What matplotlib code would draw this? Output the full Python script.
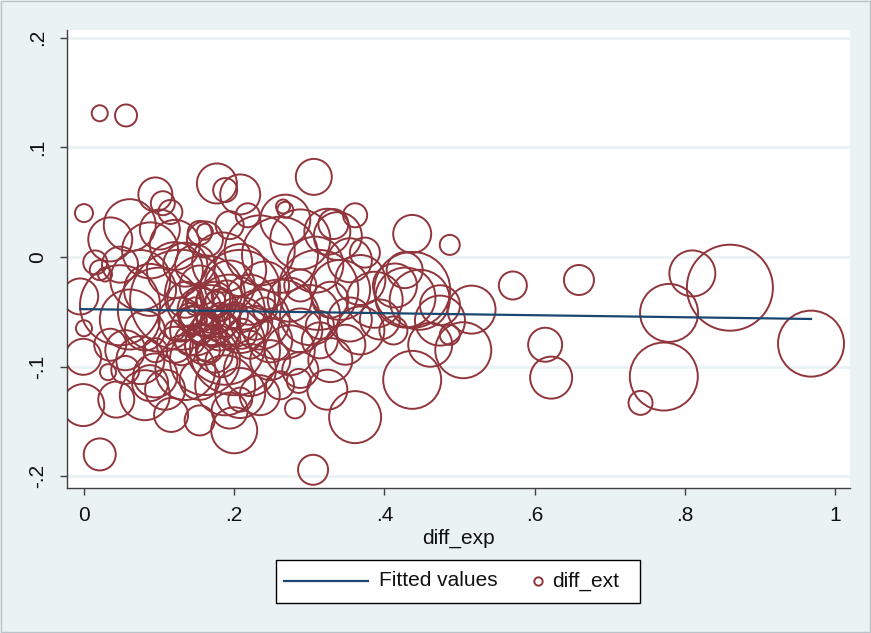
import matplotlib
matplotlib.use("Agg")
import matplotlib.pyplot as plt
from matplotlib.patches import Rectangle
from matplotlib.lines import Line2D

plt.rcParams['font.family'] = ['Liberation Sans', 'DejaVu Sans']

# ---- data: diff_exp (x), diff_ext (y), bubble weight ----
diff_exp = [
    0.021, 0.056, 0.306, 0.000, 0.177, 0.188, 0.208, 0.095, 0.105, 0.361,
    0.437, 0.487, 0.571, 0.659, 0.810, 0.860, 0.779, 0.614, 0.622, 0.772,
    0.741, 0.968, 0.437, 0.361, 0.305, 0.021, 0.200, -0.001, -0.001, 0.000,
    -0.005, 0.043, 0.032, 0.116, 0.154, 0.281, 0.286, 0.324, 0.505, 0.516,
    0.487, 0.437, 0.428, 0.474, 0.374, 0.324,
    0.035, 0.061, 0.088, 0.048, 0.021, 0.028, 0.101, 0.121, 0.135, 0.075,
    0.015, 0.115, 0.161, 0.194, 0.218, 0.184, 0.234, 0.261, 0.288, 0.268,
    0.308, 0.268, 0.338, 0.354, 0.341, 0.368, 0.387, 0.414, 0.447, 0.427,
    0.394, 0.354, 0.328, 0.474, 0.461, 0.412, 0.312, 0.168, 0.154, 0.174,
    0.148, 0.181, 0.194, 0.161, 0.135, 0.128, 0.208, 0.221, 0.234, 0.248,
    0.141, 0.161, 0.174, 0.188, 0.121, 0.154, 0.194, 0.101, 0.081, 0.061,
    0.055, 0.075, 0.095, 0.108, 0.081, 0.135, 0.154, 0.188, 0.221, 0.248,
    0.274, 0.288, 0.301, 0.314, 0.328, 0.288, 0.261, 0.234, 0.208, 0.194,
    0.035, 0.055, 0.121, 0.148, 0.208, 0.241, 0.274, 0.088, 0.048, 0.201,
    0.128, 0.161, 0.348, 0.368, 0.261, 0.221, 0.174, 0.161, 0.154, 0.141,
    0.181, 0.121, 0.241, 0.288, 0.314, 0.095, 0.208, 0.208, 0.265, 0.332,
    0.161, 0.154, 0.088,
    0.168, 0.181, 0.174, 0.161, 0.188, 0.195, 0.155, 0.148, 0.201, 0.175,
    0.190, 0.165, 0.210, 0.145, 0.183, 0.228, 0.130,
]
diff_ext = [
    0.131, 0.129, 0.073, 0.040, 0.067, 0.061, 0.057, 0.057, 0.049, 0.038,
    0.021, 0.011, -0.026, -0.021, -0.015, -0.028, -0.051, -0.080, -0.110, -0.109,
    -0.133, -0.079, -0.112, -0.146, -0.194, -0.180, -0.158, -0.135, -0.091, -0.065,
    -0.036, -0.130, -0.105, -0.144, -0.149, -0.138, -0.113, -0.121, -0.085, -0.048,
    -0.071, -0.030, -0.037, -0.058, 0.004, 0.023,
    0.016, 0.029, 0.006, -0.007, -0.012, -0.016, 0.025, 0.011, -0.007, -0.021,
    -0.005, 0.041, 0.016, 0.029, 0.038, -0.005, 0.006, 0.002, 0.016, 0.034,
    -0.007, 0.043, 0.019, -0.003, -0.030, -0.021, -0.039, -0.026, -0.039, -0.012,
    -0.057, -0.057, -0.039, -0.044, -0.080, -0.067, -0.030, -0.053, -0.048, -0.039,
    -0.067, -0.067, -0.048, -0.035, -0.039, -0.057, -0.062, -0.039, -0.057, -0.076,
    -0.076, -0.080, -0.089, -0.080, -0.080, -0.026, -0.026, -0.048, -0.067, -0.057,
    -0.085, -0.094, -0.108, -0.121, -0.126, -0.103, -0.112, -0.117, -0.103, -0.094,
    -0.085, -0.067, -0.053, -0.076, -0.094, -0.103, -0.117, -0.126, -0.130, -0.140,
    -0.080, -0.103, -0.012, -0.007, -0.012, -0.026, -0.039, -0.030, -0.044, -0.085,
    -0.039, -0.094, -0.080, -0.067, -0.057, -0.080, -0.057, -0.062, -0.039, -0.053,
    -0.044, -0.067, -0.048, -0.026, -0.062, -0.085, -0.030, -0.124, 0.046, 0.030,
    0.023, 0.022, -0.115,
    -0.060, -0.050, -0.072, -0.055, -0.062, -0.075, -0.070, -0.045, -0.053, -0.040,
    -0.035, -0.085, -0.070, -0.058, -0.095, -0.060, -0.085,
]
weight = [
    0.64, 1.21, 3.24, 0.81, 4.00, 1.44, 4.00, 2.89, 1.44, 1.44,
    3.61, 1.00, 1.96, 2.25, 5.29, 18.49, 8.41, 2.89, 4.41, 11.56,
    1.44, 10.89, 8.41, 6.76, 2.25, 2.56, 5.29, 4.41, 3.24, 0.64,
    3.24, 3.24, 0.64, 2.89, 2.25, 1.00, 1.44, 4.00, 7.84, 5.76,
    1.00, 14.44, 9.00, 6.25, 2.25, 5.29,
    4.84, 6.76, 7.84, 3.24, 1.00, 0.49, 4.00, 6.25, 4.84, 9.00,
    1.44, 1.44, 3.24, 1.96, 1.44, 9.00, 12.25, 14.44, 9.00, 6.25,
    7.84, 0.64, 5.76, 4.84, 9.00, 6.25, 7.84, 4.84, 9.00, 3.24,
    4.00, 4.84, 3.24, 4.00, 4.84, 1.96, 16.00, 9.00, 4.84, 3.24,
    6.25, 4.00, 12.25, 16.00, 3.24, 4.84, 7.84, 6.25, 9.00, 4.84,
    2.25, 4.00, 3.24, 16.00, 3.24, 4.00, 6.25, 17.64, 4.00, 9.00,
    4.00, 5.76, 4.84, 4.00, 6.25, 9.00, 4.00, 9.00, 6.76, 4.00,
    6.25, 4.84, 9.00, 3.24, 4.84, 3.24, 1.96, 4.00, 1.44, 3.24,
    2.56, 1.96, 7.84, 4.00, 6.76, 5.76, 4.84, 6.76, 16.00, 20.25,
    25.00, 12.25, 4.00, 5.76, 16.00, 1.96, 1.00, 1.44, 1.96, 1.44,
    2.56, 1.00, 1.44, 2.56, 1.96, 1.44, 16.00, 6.25, 0.49, 2.25,
    0.64, 1.44, 3.24,
    1.00, 0.81, 1.21, 0.64, 1.44, 1.00, 1.21, 0.81, 1.69, 1.00,
    2.25, 1.44, 2.25, 1.96, 2.56, 2.89, 2.25,
]
fit_x = [-0.005, 0.968]
fit_y = [-0.0475, -0.0565]

xticks = [0, 0.2, 0.4, 0.6, 0.8, 1.0]
xticklabels = ["0", ".2", ".4", ".6", ".8", "1"]
yticks = [-0.2, -0.1, 0.0, 0.1, 0.2]
yticklabels = ["-.2", "-.1", "0", ".1", ".2"]

BG = "#eaf2f3"
MAROON = "#90353b"
NAVY = "#1a476f"
AXC = "#404040"
TXT = "#111111"
FS = 15

W, H = 871, 633
fig = plt.figure(figsize=(W / 100, H / 100), dpi=100, facecolor=BG)
ax = fig.add_axes([67 / W, 1 - 488 / H, (850 - 67) / W, (488 - 30) / H])
ax.set_facecolor("white")

ax.set_xlim(-0.0226, 1.0199)
ax.set_ylim(-0.2106, 0.2069)

for yt in yticks:
    ax.axhline(yt, color=BG, lw=2.0, zorder=0)

sizes = [w * 2.0736 * 100 for w in weight]
ax.scatter(diff_exp, diff_ext, s=sizes, facecolors="none", edgecolors=MAROON,
           linewidths=1.4, zorder=2)
ax.plot(fit_x, fit_y, color=NAVY, lw=1.6, zorder=3)

for side in ["top", "right"]:
    ax.spines[side].set_visible(False)
for side in ["left", "bottom"]:
    ax.spines[side].set_color(AXC)
    ax.spines[side].set_linewidth(1.0)

ax.set_xticks(xticks)
ax.set_xticklabels(xticklabels, fontsize=FS)
ax.set_yticks(yticks)
ax.set_yticklabels(yticklabels, fontsize=FS, rotation=90, va="center")
ax.tick_params(axis="both", color=AXC, length=5, width=1.0, labelcolor=TXT)
ax.tick_params(axis="y", pad=9)
ax.tick_params(axis="x", pad=8)
ax.set_xlabel("diff_exp", fontsize=FS, color=TXT, labelpad=3)

# legend box
fig.add_artist(Rectangle((276 / W, 1 - 603 / H), (640 - 276) / W, (603 - 560) / H,
                         transform=fig.transFigure, facecolor="white",
                         edgecolor="black", lw=1.0))
ly = 1 - 581 / H
fig.add_artist(Line2D([284 / W, 368 / W], [ly, ly], transform=fig.transFigure,
                      color=NAVY, lw=1.6))
fig.text(379 / W, ly, "Fitted values", fontsize=FS, va="center", ha="left",
         color=TXT)
fig.add_artist(Line2D([538 / W], [ly], transform=fig.transFigure, marker="o",
                      markersize=6, markerfacecolor="none", markeredgecolor=MAROON,
                      markeredgewidth=1.4, linestyle="none"))
fig.text(552 / W, ly, "diff_ext", fontsize=FS, va="center", ha="left",
         color=TXT)

# outer border
fig.add_artist(Rectangle((0.001, 0.001), 0.998, 0.997, transform=fig.transFigure,
                         facecolor="none", edgecolor="#b8c4c8", lw=1.0))

fig.savefig("out.png", dpi=100, facecolor=BG)
